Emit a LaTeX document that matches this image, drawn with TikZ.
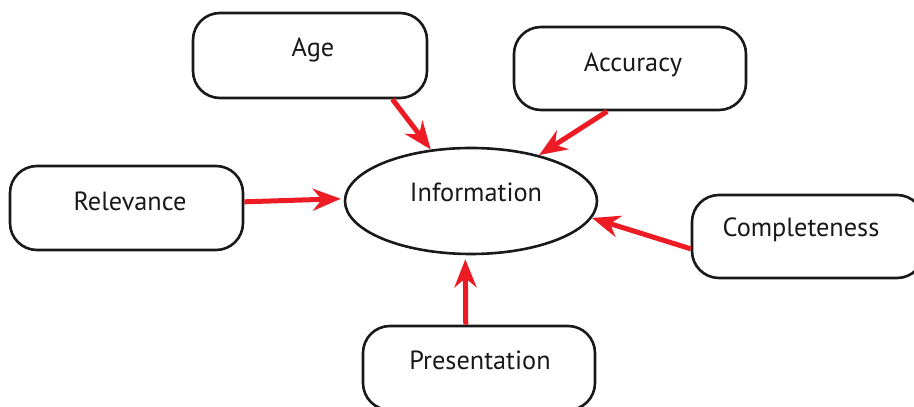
\documentclass[tikz,border=0pt]{standalone}
\usepackage{fontspec}
\setmainfont{PT Sans}
\usetikzlibrary{arrows.meta,shapes.geometric}
\definecolor{arrred}{HTML}{ED1C24}
\begin{document}
\begin{tikzpicture}[x=1pt,y=1pt,
  box/.style={draw=black!90, line width=2.6pt, rounded corners=27pt, inner sep=0pt},
  lbl/.style={anchor=base, inner sep=0pt, font=\fontsize{26.3}{31}\selectfont, text=black!90},
  arr/.style={draw=arrred, line width=5pt, -{Stealth[length=28pt,width=22pt,inset=9pt]}}]
\clip (0,0) rectangle (914,407);
\fill[white] (0,0) rectangle (914,407);
% boxes
\node[box, minimum width=234pt, minimum height=85pt] (age) at (310,351.5) {};
\node[box, minimum width=232pt, minimum height=83pt] (acc) at (630,338.5) {};
\node[box, minimum width=233pt, minimum height=84pt] (rel) at (126.5,199) {};
\node[box, minimum width=232pt, minimum height=83pt] (com) at (808,170.5) {};
\node[box, minimum width=232pt, minimum height=84pt] (pre) at (479,39) {};
\node[draw=black!90, line width=2.6pt, ellipse, minimum width=252pt, minimum height=106pt, inner sep=0pt] (info) at (471,206) {};
% labels
\node[lbl] (tage) at (313,350) {Age};
\node[lbl] (tacc) at (633,335) {Accuracy};
\node[lbl] (trel) at (130,196) {Relevance};
\node[lbl] (tinf) at (476,205) {Information};
\node[lbl] (tcom) at (801,170) {Completeness};
\node[lbl] (tpre) at (480,37) {Presentation};
% arrows
\draw[arr] (age.-28) -- (info.128);
\draw[arr] (acc.-118) -- (info.34);
\draw[arr] (rel.3) -- ([xshift=-3pt]info.179);
\draw[arr] (com.186.6) -- (info.-8);
\draw[arr] (pre.107) -- ([yshift=-4pt]info.264.6);
\end{tikzpicture}
\end{document}
